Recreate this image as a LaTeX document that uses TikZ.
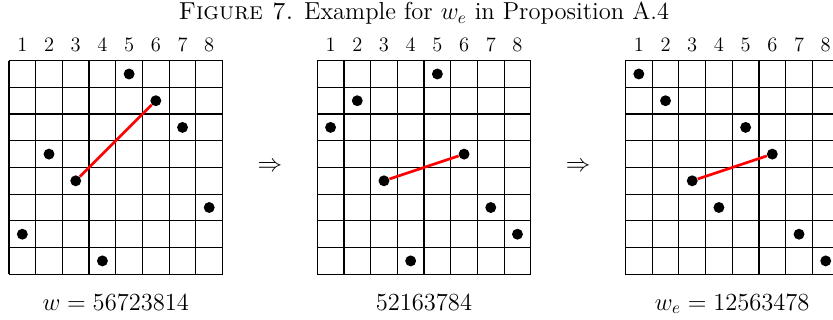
\documentclass[tikz,border=0pt]{standalone}
\usetikzlibrary{math}

\begin{document}
\begin{tikzpicture}[
gridline/.style={line width=0.7},
dot/.style={circle, fill=black, inner sep=0pt, minimum size=0.225cm},
redline/.style={red, line width=1.6},
collabel/.style={anchor=base, inner sep=0pt, font=\large},
biglabel/.style={anchor=base, inner sep=0pt, font=\Large}
]
\tikzmath{
\c=0.55;
\gap=6.35;
\xl=0.185;
\yb=0.94;
}
\useasboundingbox (0,0) rectangle (17.16,6.59);

\node[biglabel] (title) at (8.73,6.18) {\textsc{Figure 7.} Example for $w_e$ in Proposition A.4};

\foreach \g/\perm/\txt in {0/{5,6,7,2,3,8,1,4}/{$w=56723814$},
                           1/{5,2,1,6,3,7,8,4}/{$52163784$},
                           2/{1,2,5,6,3,4,7,8}/{$w_e=12563478$}}{
\begin{scope}[shift={(\xl+\g*\gap,\yb)}]
\foreach \i in {0,...,8}{
\draw[gridline] (\i*\c,0) -- (\i*\c,8*\c);
\draw[gridline] (0,\i*\c) -- (8*\c,\i*\c);
}
\foreach \i in {1,...,8}{
\node[collabel] (col-\g-\i) at ({(\i-0.5)*\c},8*\c+0.195) {$\i$};
}
\foreach \p [count=\r] in \perm{
\node[dot] (dot-\g-\r) at ({(\p-0.5)*\c},{(8.5-\r)*\c}) {};
}
\node[biglabel] (lab-\g) at (4*\c,-0.74) {\txt};
\end{scope}
}

\draw[redline] (dot-0-5) -- (dot-0-2);
\draw[redline] (dot-1-5) -- (dot-1-4);
\draw[redline] (dot-2-5) -- (dot-2-4);

\node[font=\Large] (imp-1) at (\xl+8*\c+0.5*\gap-4*\c,\yb+4*\c) {$\Rightarrow$};
\node[font=\Large] (imp-2) at (\xl+8*\c+1.5*\gap-4*\c,\yb+4*\c) {$\Rightarrow$};

\end{tikzpicture}
\end{document}
